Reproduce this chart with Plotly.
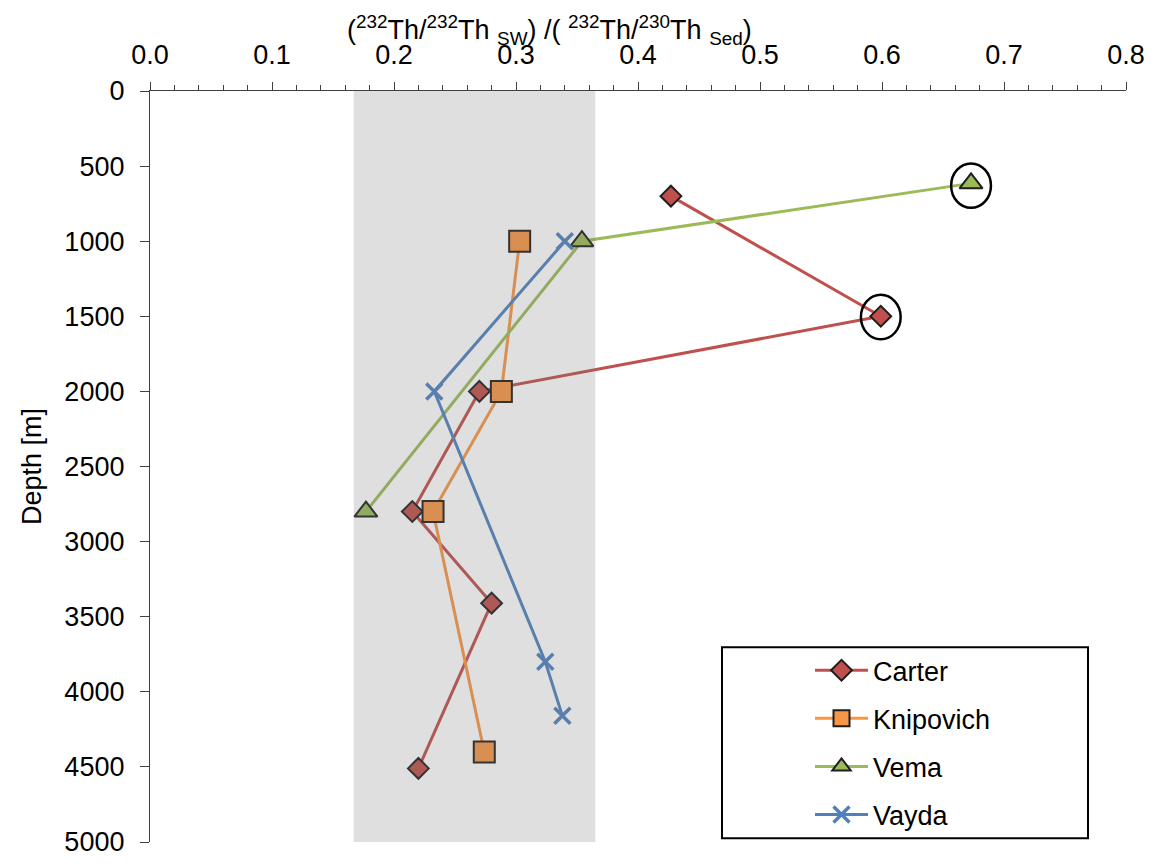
import plotly.graph_objects as go

# ---- data ----
carter_x = [0.427, 0.599, 0.270, 0.215, 0.280, 0.220]
carter_y = [700, 1500, 2000, 2800, 3410, 4510]
knip_x = [0.303, 0.288, 0.232, 0.274]
knip_y = [1000, 2000, 2800, 4400]
vema_x = [0.673, 0.354, 0.177]
vema_y = [615, 1000, 2800]
vayda_x = [0.340, 0.233, 0.324, 0.338]
vayda_y = [1000, 2000, 3800, 4160]
band_x = [0.167, 0.365]          # grey reference band (x extent)
circled_x = [0.599, 0.673]       # highlighted points
circled_y = [1505, 630]
x_ticks = [0.0, 0.1, 0.2, 0.3, 0.4, 0.5, 0.6, 0.7, 0.8]
y_ticks = list(range(0, 5001, 500))

FONT = "Liberation Sans, Arial, sans-serif"
FS = 27
OFF = 8                      # default page (body) margin of the html page
W, H = 1161 - OFF, 867 - OFF
L, T = 150 - OFF, 91 - OFF
R = W - (1126 - OFF)
B = H - (841.7 - OFF)
PW = W - L - R
PH = H - T - B

def px_to_paper_x(px):
    return (px - OFF - L) / PW

def px_to_paper_y(py):
    return (H - B - (py - OFF)) / PH

series = [
    ("Carter", carter_x, carter_y, "#C0504D", "diamond", 16, 2),
    ("Knipovich", knip_x, knip_y, "#F79646", "square", 21, 2),
    ("Vema", vema_x, vema_y, "#9BBB59", "triangle-up", 20, 2),
    ("Vayda", vayda_x, vayda_y, "#4F81BD", "x-thin", 16, 3.5),
]

fig = go.Figure()
for name, xs, ys, col, sym, size, mlw in series:
    if sym == "x-thin":
        marker = dict(symbol=sym, size=size, color=col, line=dict(color=col, width=mlw))
    else:
        marker = dict(symbol=sym, size=size, color=col, line=dict(color="#1e1e1e", width=mlw))
    fig.add_trace(go.Scatter(
        x=xs, y=ys, name=name, mode="lines+markers",
        line=dict(color=col, width=3),
        marker=marker, legendgroup=name,
    ))

shapes = []
# grey band drawn above the data (semi-transparent)
shapes.append(dict(type="rect", xref="x", yref="y", x0=band_x[0], x1=band_x[1],
                   y0=0, y1=5000, fillcolor="rgba(120,120,120,0.24)",
                   line=dict(width=0), layer="above"))
# circles around highlighted points
rx, ry = 0.0163, 148
for cx, cy in zip(circled_x, circled_y):
    shapes.append(dict(type="circle", xref="x", yref="y",
                       x0=cx - rx, x1=cx + rx, y0=cy - ry, y1=cy + ry,
                       line=dict(color="black", width=2.5), layer="above"))
# legend frame
shapes.append(dict(type="rect", xref="paper", yref="paper",
                   x0=px_to_paper_x(722), x1=px_to_paper_x(1088),
                   y0=px_to_paper_y(838), y1=px_to_paper_y(647),
                   line=dict(color="black", width=2), fillcolor="rgba(0,0,0,0)"))

fig.update_layout(
    width=W, height=H,
    margin=dict(l=L, r=R, t=T, b=B, autoexpand=False),
    paper_bgcolor="white", plot_bgcolor="white",
    font=dict(family=FONT, size=FS, color="black"),
    shapes=shapes,
    showlegend=True,
    legend=dict(
        x=px_to_paper_x(810), y=px_to_paper_y(646),
        xanchor="left", yanchor="top",
        bgcolor="rgba(0,0,0,0)", borderwidth=0,
        font=dict(family=FONT, size=27, color="black"),
        itemwidth=53, traceorder="grouped", tracegroupgap=10,
    ),
    annotations=[
        dict(text="(<sup>232</sup>Th/<sup>232</sup>Th <sub>SW</sub>) /( <sup>232</sup>Th/<sup>230</sup>Th <sub>Sed</sub>)",
             xref="paper", yref="paper", x=px_to_paper_x(345), y=px_to_paper_y(30),
             xanchor="left", yanchor="middle", showarrow=False,
             font=dict(family=FONT, size=FS, color="black")),
    ],
)

fig.update_xaxes(
    side="top", range=[0, 0.8], tickvals=x_ticks, tickformat=".1f",
    ticks="outside", ticklen=8, tickwidth=1.3, tickcolor="#404040",
    minor=dict(dtick=0.02, ticks="outside", ticklen=5, tickcolor="#404040", tickwidth=1),
    showline=True, linecolor="#404040", linewidth=1.3,
    showgrid=False, zeroline=False, ticklabelstandoff=7, automargin=False,
    tickfont=dict(family=FONT, size=FS, color="black"),
)
fig.update_yaxes(
    range=[5000, 0], tickvals=y_ticks, tickformat="d",
    ticks="outside", ticklen=9, tickwidth=1.3, tickcolor="#404040",
    showline=True, linecolor="#404040", linewidth=1.3,
    showgrid=False, zeroline=False, ticklabelstandoff=10, automargin=False,
    tickfont=dict(family=FONT, size=FS, color="black"),
    title=dict(text="Depth [m]", standoff=14, font=dict(family=FONT, size=FS, color="black")),
)

fig.write_html("out.html")
